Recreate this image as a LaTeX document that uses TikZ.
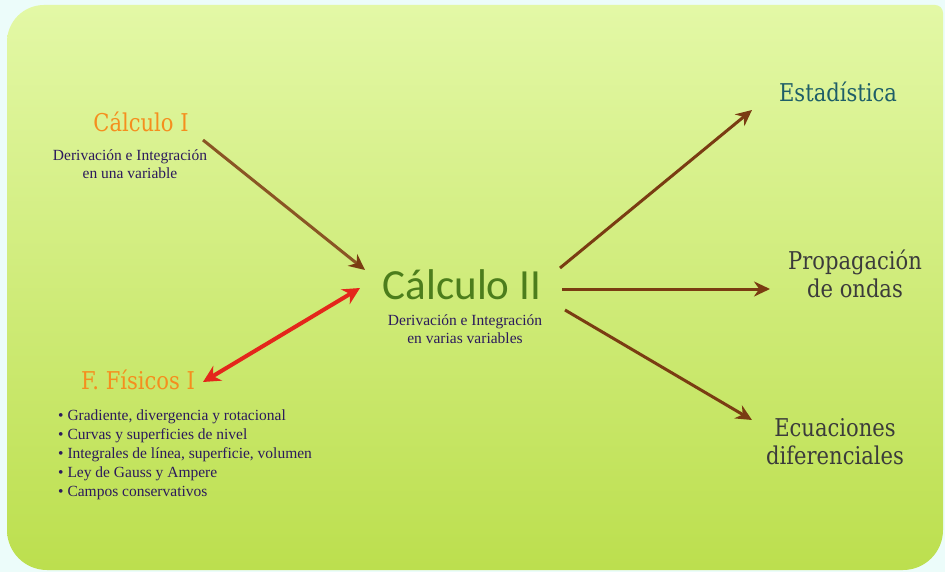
\documentclass[tikz,border=0pt]{standalone}
\usepackage{fontspec}
\setmainfont{Liberation Serif}
\newfontfamily\slab{DejaVu Serif}[FakeStretch=0.86]
\newfontfamily\carl{Carlito}
\usetikzlibrary{arrows.meta}
\definecolor{outer}{HTML}{ECFCFA}
\definecolor{bgtop}{HTML}{E3F8A6}
\definecolor{bgbot}{HTML}{BCDF4E}
\definecolor{orangeT}{HTML}{F58E1E}
\definecolor{greenT}{HTML}{4C7D1C}
\definecolor{tealT}{HTML}{1E5E68}
\definecolor{grayT}{HTML}{3B3B3B}
\definecolor{purpleT}{HTML}{2C1A5C}
\definecolor{brownA}{HTML}{8A5524}
\definecolor{brownB}{HTML}{7A3C12}
\definecolor{redA}{HTML}{E4261B}
\tikzset{
  title/.style={inner sep=0pt, text=orangeT, font=\slab\fontsize{24.5}{28}\selectfont},
  desc/.style={inner sep=0pt, text=purpleT, align=center, font=\fontsize{15.5}{18}\selectfont},
  rtitle/.style={inner sep=0pt, align=center, font=\slab\fontsize{24.5}{28}\selectfont},
  conn/.style={line width=3pt, brownB, -{Stealth[length=16pt,width=15pt]}},
  conn1/.style={line width=3pt, brownA, -{Stealth[length=16pt,width=15pt,color=brownB]}},
  connred/.style={line width=4pt, redA, {Stealth[length=17pt,width=17pt]}-{Stealth[length=17pt,width=17pt]}}
}
\begin{document}
\begin{tikzpicture}[x=1pt,y=-1pt]
\useasboundingbox (0,0) rectangle (945,572);
\fill[outer] (0,0) rectangle (945,572);
\shade[top color=bgtop, bottom color=bgbot]
  (7,42) arc[start angle=180, end angle=270, radius=37] -- (935,5)
  arc[start angle=270, end angle=360, radius=8] -- (943,530)
  arc[start angle=0, end angle=90, radius=40] -- (47,570)
  arc[start angle=90, end angle=180, radius=40] -- cycle;
% left side
\node[title] (c1) at (141,122) {Cálculo I};
\node[desc] (c1d) at (130,164) {Derivación e Integración\\en una variable};
\node[title] (fis) at (138,380) {F. Físicos I};
\node[inner sep=0pt, text=purpleT, align=left, anchor=north west,
      font=\fontsize{15.5}{19}\selectfont] (fisd) at (58,410)
  {\textbullet\ Gradiente, divergencia y rotacional\\
   \textbullet\ Curvas y superficies de nivel\\
   \textbullet\ Integrales de línea, superficie, volumen\\
   \textbullet\ Ley de Gauss y Ampere\\
   \textbullet\ Campos conservativos};
% centre
\node[inner sep=0pt, text=greenT, font=\carl\fontsize{43}{48}\selectfont] (c2) at (462,285) {Cálculo II};
\node[desc] (c2d) at (465,329) {Derivación e Integración\\en varias variables};
% right
\node[rtitle, text=tealT] (est) at (838,92) {Estadística};
\node[rtitle, text=grayT] (prop) at (855,274) {Propagación\\de ondas};
\node[rtitle, text=grayT] (ecu) at (835,442) {Ecuaciones\\diferenciales};
% connectors
\draw[conn1] ([shift={(62,18)}]c1.center) -- ([shift={(-97,-15)}]c2.center);
\draw[connred] ([shift={(65,2)}]fis.center) -- ([shift={(-102,3)}]c2.center);
\draw[conn] ([shift={(98,-17)}]c2.center) -- ([shift={(-86,18)}]est.center);
\draw[conn] ([shift={(100,4)}]c2.center) -- ([shift={(-85,15)}]prop.center);
\draw[conn] ([shift={(103,25)}]c2.center) -- ([shift={(-83,-22)}]ecu.center);
\end{tikzpicture}
\end{document}
